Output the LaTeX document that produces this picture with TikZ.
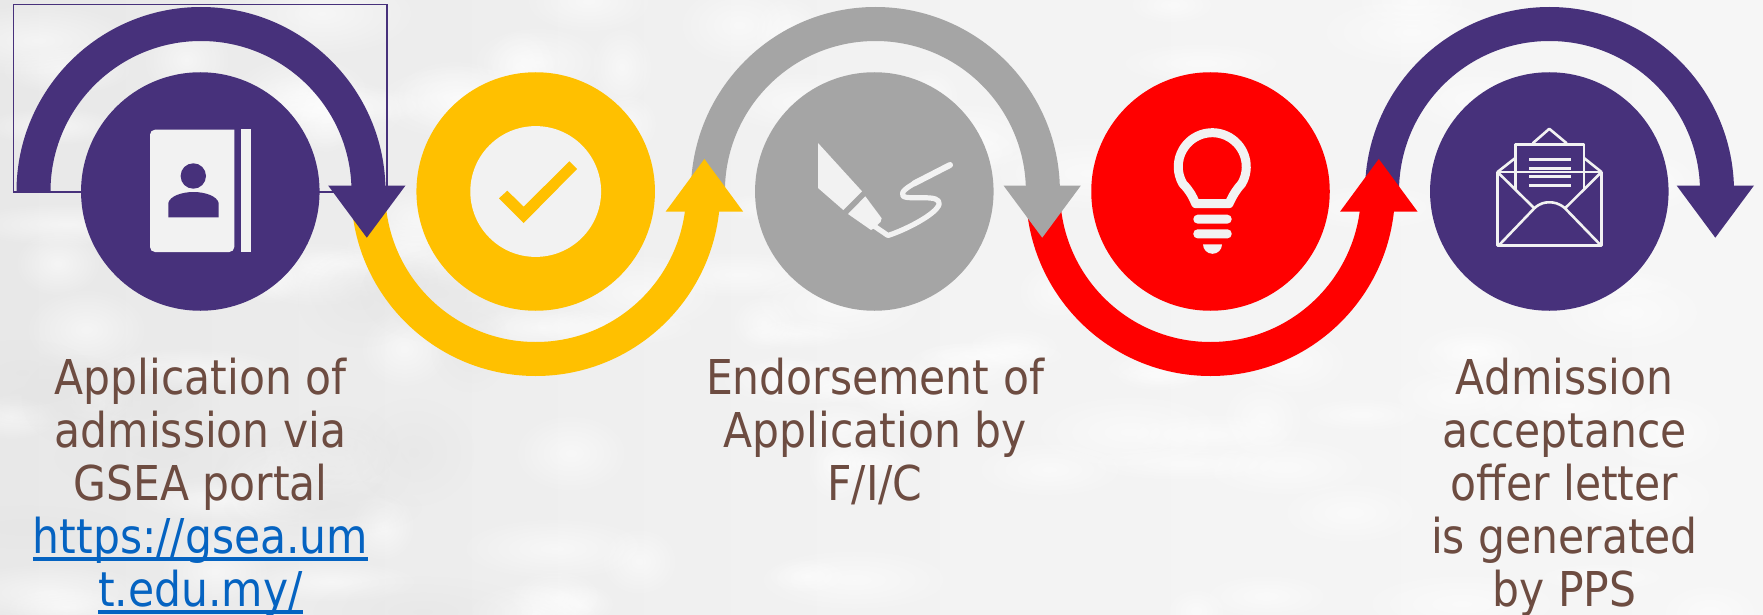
\documentclass[tikz,border=0pt]{standalone}
\usepackage{fontspec}
\setmainfont{DejaVu Sans}[FakeStretch=0.885]
\usetikzlibrary{fadings}
\definecolor{cpurple}{HTML}{47317B}
\definecolor{cyellow}{HTML}{FFC000}
\definecolor{cgray}{HTML}{A5A5A5}
\definecolor{cred}{HTML}{FF0000}
\definecolor{cicon}{HTML}{F2F2F2}
\definecolor{ctext}{HTML}{6D4C41}
\definecolor{clink}{HTML}{0563C1}
\tikzfading[name=blobfade, inner color=transparent!45, outer color=transparent!100]
\newcommand{\lnk}[1]{\setbox0\hbox{#1}\rlap{\vrule width\wd0 height -3pt depth 7pt}\box0}
\newcommand{\archtop}[3]{% cx, colour, tip x
  \fill[#2] (#1-184.5,191.5) arc[start angle=180,end angle=360,radius=184.5]
    -- (#1+150.5,191.5) arc[start angle=360,end angle=180,radius=150.5] -- cycle;
  \fill[#2] (#3-38.7,185.5) -- (#3+38.7,185.5) -- (#3,237.7) -- cycle;}
\newcommand{\archbot}[3]{%
  \fill[#2] (#1-184.5,191.5) arc[start angle=180,end angle=0,radius=184.5]
    -- (#1+150.5,191.5) arc[start angle=0,end angle=180,radius=150.5] -- cycle;
  \fill[#2] (#3-38.8,211.7) -- (#3+38.8,211.7) -- (#3,159) -- cycle;}
\tikzset{
  disc/.style={circle,inner sep=0pt,minimum size=238.5pt,fill=#1},
  label text/.style={anchor=north,align=center,text=ctext,inner sep=0pt,
    font=\fontsize{48}{53}\selectfont},
  icon line/.style={draw=cicon,line width=2.6,line join=round},
}
\begin{document}
\begin{tikzpicture}[x=1pt,y=-1pt]
\useasboundingbox (0,0) rectangle (1763,615);
% paper background
\shade[left color=black!9, right color=black!3.5, middle color=black!5] (0,0) rectangle (1763,615);
\begin{scope}
\clip (0,0) rectangle (1763,615);
\pgfmathsetseed{41}
\foreach \i in {1,...,110}{
  \pgfmathsetmacro{\bx}{rnd*1763}
  \pgfmathsetmacro{\by}{rnd*615}
  \pgfmathsetmacro{\brx}{30+rnd*80}
  \pgfmathsetmacro{\bry}{14+rnd*30}
  \fill[white,path fading=blobfade] (\bx,\by) ellipse[x radius=\brx,y radius=\bry];
}
\foreach \i in {1,...,16}{
  \pgfmathsetmacro{\bx}{rnd*550}
  \pgfmathsetmacro{\by}{280+rnd*335}
  \pgfmathsetmacro{\brx}{40+rnd*70}
  \pgfmathsetmacro{\bry}{20+rnd*35}
  \fill[black!10,path fading=blobfade] (\bx,\by) ellipse[x radius=\brx,y radius=\bry];
}
\end{scope}
% thin frame
\draw[cpurple,line width=1.1] (13.5,4.8) rectangle (387,192);
% arrows (later steps lie underneath)
\archtop{1549.5}{cpurple}{1715.3}
\archbot{1210.5}{cred}{1378.8}
\archtop{875.4}{cgray}{1042.2}
\archbot{535.7}{cyellow}{704.4}
\archtop{201}{cpurple}{366.8}
% discs
\node[disc=cpurple] (c1) at (200.3,191.5) {};
\node[disc=cyellow] (c2) at (535.7,191.5) {};
\node[disc=cgray] (c3) at (874.3,191.5) {};
\node[disc=cred] (c4) at (1210.5,191.5) {};
\node[disc=cpurple] (c5) at (1549.3,191.5) {};
% address-book icon
\fill[cicon,rounded corners=5] (234.3,129.7) -- (150,129.7) -- (150,252) -- (234.3,252) [sharp corners] -- cycle;
\fill[cicon] (241,129) rectangle (250.7,252);
\fill[cpurple] (193.3,176) circle[radius=12.7];
\fill[cpurple] (168.3,217.3) -- (168.3,203) .. controls (170,196) and (182,192) .. (193.5,192)
  .. controls (205,192) and (217,196) .. (218.7,203) -- (218.7,217.3) -- cycle;
% check icon
\fill[cicon] (535.7,191.5) circle[radius=65.4];
\fill[cyellow] (499,198.3) -- (507.3,190.7) -- (523.7,206.7) -- (569.3,161.3) -- (577,169) -- (523.7,223) -- cycle;
% pen icon
\fill[cicon] (818,143) -- (862,191.3) -- (843.3,210) -- (818,188) -- cycle;
\fill[cicon] (865.3,196.3) -- (881.7,218.3) -- (880.5,222) -- (874,228.3) -- (871,230) -- (848,214) -- cycle;
\draw[cicon,line width=5.2,line cap=round,line join=round] (874,226) -- (888,235.5)
  .. controls (905,230) and (930,217) .. (937,208)
  .. controls (942,202) and (938,198.5) .. (930,198)
  .. controls (920,197) and (906,199) .. (903,196)
  .. controls (900,192) and (908,187) .. (915,183);
\draw[cicon,line width=6,line cap=round] (914,183.5) -- (950,165);
% bulb icon
\draw[cicon,line width=9,line join=round] (1195.7,203.7) -- (1229,203.7)
  .. controls (1233,195) and (1236,190) .. (1241.7,183.7)
  arc[start angle=30,end angle=-210,radius=34]
  .. controls (1189,190) and (1192,195) .. (1195.7,203.7) -- cycle;
\fill[cicon,rounded corners=4.3] (1193.3,214.7) rectangle (1231.7,223.6);
\fill[cicon,rounded corners=4.3] (1193.3,229.3) rectangle (1231.7,238.4);
\fill[cicon] (1203,244.3) -- (1222,244.3) arc[start angle=0,end angle=180,radius=9.5] -- cycle;
% envelope icon
\draw[icon line] (1497.5,172) rectangle (1601.5,245.5);
\draw[icon line] (1515.5,190) -- (1515.5,144.5) -- (1584,144.5) -- (1584,190);
\draw[icon line] (1532.7,143.3) -- (1549.3,128.8) -- (1566.7,143.3);
\draw[icon line] (1497.5,172) -- (1515.3,158);
\draw[icon line] (1601.5,172) -- (1584,158);
\draw[icon line] (1497.5,172) -- (1534.3,208.3);
\draw[icon line] (1601.5,172) -- (1565,208.3);
\draw[icon line] (1498.7,245.5) -- (1534.3,208.3) .. controls (1540,203) and (1545,202.3) .. (1549.3,202.3)
  .. controls (1553.6,202.3) and (1559,203) .. (1565,208.3) -- (1601,245.5);
\foreach \ly in {159.3,168.3,176.3,185.3}
  \fill[cicon] (1529,\ly-1.4) rectangle (1571,\ly+1.4);
% labels
\node[label text] (t1) at (200.5,358) {Application of\\admission via\\GSEA portal\\
  \textcolor{clink}{\lnk{https://gsea.um}}\\\textcolor{clink}{\lnk{t.edu.my/}}};
\node[label text] (t3) at (875,358) {Endorsement of\\Application by\\F/I/C};
\node[label text] (t5) at (1564.5,358) {Admission\\acceptance\\offer letter\\is generated\\by PPS};
\end{tikzpicture}
\end{document}
